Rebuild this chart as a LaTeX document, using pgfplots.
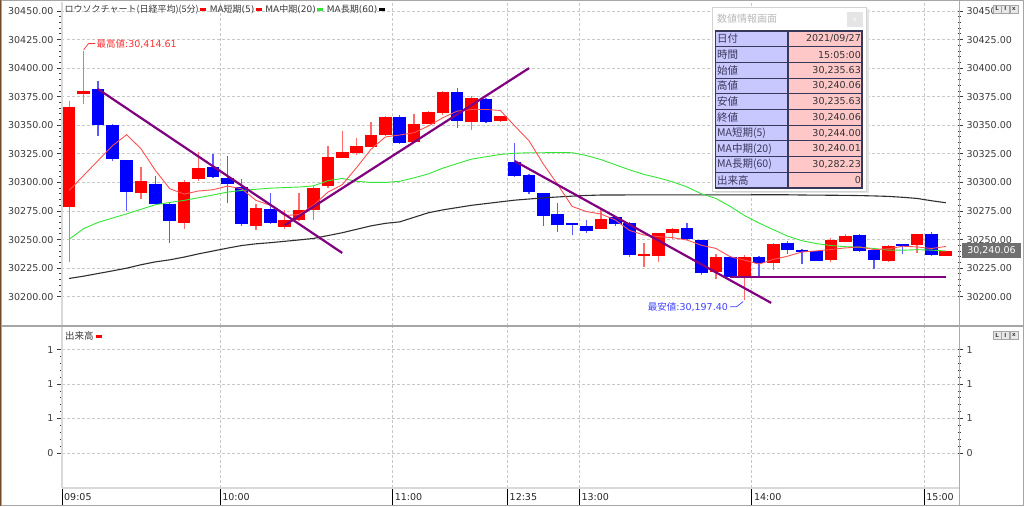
\documentclass[border=0pt]{standalone}
\usepackage{pgfplots}
\pgfplotsset{compat=1.18}
\usepackage{fontspec}
\setmainfont{Noto Sans CJK JP}
\newfontfamily\num{DejaVu Sans}

\definecolor{candR}{HTML}{FF0000}
\definecolor{candB}{HTML}{0000FF}
\definecolor{wickR}{HTML}{FF6A6A}
\definecolor{wickB}{HTML}{5A5AFF}
\definecolor{ma5}{HTML}{FF5050}
\definecolor{ma20}{HTML}{33E633}
\definecolor{ma60}{HTML}{303030}
\definecolor{trend}{HTML}{800080}
\definecolor{gridc}{HTML}{C8C8C8}
\definecolor{txt}{HTML}{3C3C3C}
\definecolor{boxL}{HTML}{C8C8FF}
\definecolor{boxR}{HTML}{FFC8C8}
\definecolor{tblc}{HTML}{38385A}

\newcommand{\mk}[1]{\textcolor{#1}{\raisebox{0.22em}{\rule{6pt}{2.6pt}}}}
\newcommand{\row}[3]{%
  \node[anchor=west, inner sep=0, text=tblc, font=\fontsize{10.5}{11}\selectfont] at (717,{467.15-15.7*#1}) {#2};
  \node[anchor=east, inner sep=0, text=black!80, font=\num\fontsize{9.5}{11}\selectfont] at (861,{467.15-15.7*#1}) {#3};}
\newcommand{\btns}[1]{%
  \foreach \bx/\bl in {993/L,1001.5/I,1010/x}{
    \draw[gray!70, fill=gray!18] (\bx,#1) rectangle ++(8,8);
    \node[inner sep=0, font=\num\bfseries\fontsize{5.5}{6}\selectfont, text=black!75] at (\bx+4,#1+4) {\bl};}}

\pgfplotsset{
  chart/.style={
    scale only axis, width=896pt,
    xmin=-0.5, xmax=61.85,
    axis line style={draw=none},
    tick align=outside,
    major tick length=5pt, minor tick length=2.5pt,
    tick style={txt, line width=0.8pt},
    xtick={10.5,22.5,30.5,35.5,47.5,59.5}, xticklabels={},
    xtick style={draw=none},
    scaled y ticks=false,
    ticklabel style={font=\num\fontsize{9.5}{11}\selectfont, text=txt},
    /pgf/number format/assume math mode=true,
    major grid style={gridc, dash pattern=on 2.5pt off 2.5pt, line width=0.8pt},
  },
  price/.style={
    ymin=30174.4, ymax=30457,
    ytick={30200,30225,...,30450}, minor y tick num=4,
    yticklabel style={/pgf/number format/fixed, /pgf/number format/fixed zerofill,
      /pgf/number format/precision=2, /pgf/number format/1000 sep={}},
  },
}

\begin{document}
\begin{tikzpicture}[x=1pt,y=1pt]
\useasboundingbox (0,0) rectangle (1024,506);
\fill[white] (0,0) rectangle (1024,506);

% ---------- price panel ----------
\begin{axis}[chart, price, at={(62pt,180pt)}, anchor=south west, height=323pt,
  ytick pos=left,
  xmajorgrids, ymajorgrids,
  unbounded coords=jump,
]
% wicks
\addplot[wickR, line width=1.3pt] coordinates {
(0,30230.5) (0,30371) (0,nan) (1,30369) (1,30414.61) (1,nan)
(5,30285.5) (5,30313.4) (5,nan) (8,30259.6) (8,30301.7) (8,nan)
(9,30301.2) (9,30326.2) (9,nan) (13,30258) (13,30280.8) (13,nan)
(15,30259.6) (15,30276) (15,nan) (16,30266) (16,30291) (16,nan)
(17,30267.4) (17,30297) (17,nan) (18,30295) (18,30332.3) (18,nan)
(19,30321) (19,30344.8) (19,nan) (20,30323.9) (20,30338.6) (20,nan)
(21,30331) (21,30352.8) (21,nan) (22,30341) (22,30358) (22,nan)
(24,30334.6) (24,30360) (24,nan) (25,30350.8) (25,30362.5) (25,nan)
(26,30358.6) (26,30380) (26,nan) (28,30345.9) (28,30375.7) (28,nan)
(30,30353) (30,30358.5) (30,nan) (37,30259) (37,30276.8) (37,nan)
(40,30226.3) (40,30246.7) (40,nan) (41,30230.7) (41,30256) (41,nan)
(42,30250.2) (42,30260) (42,nan) (45,30215.2) (45,30237) (45,nan)
(47,30197.4) (47,30236.5) (47,nan) (49,30223.8) (49,30247) (49,nan)
(53,30230.2) (53,30251.7) (53,nan) (54,30248) (54,30254.7) (54,nan)
(57,30230) (57,30245) (57,nan) (59,30238.4) (59,30255) (59,nan)
(61,30235.63) (61,30240.06)
};
\addplot[wickB, line width=1.3pt] coordinates {
(2,30341) (2,30388.4) (2,nan) (3,30318.6) (3,30351) (3,nan)
(4,30275) (4,30320) (4,nan) (6,30280.8) (6,30305.2) (6,nan)
(7,30247.4) (7,30282) (7,nan) (10,30304) (10,30325) (10,nan)
(11,30282) (11,30323) (11,nan) (12,30262) (12,30303.2) (12,nan)
(14,30264) (14,30291) (14,nan) (23,30334) (23,30358.6) (23,nan)
(27,30348) (27,30382.6) (27,nan) (29,30352) (29,30374) (29,nan)
(31,30305) (31,30334.9) (31,nan) (32,30290) (32,30307) (32,nan)
(33,30262) (33,30291) (33,nan) (34,30257) (34,30281.8) (34,nan)
(35,30254) (35,30264.5) (35,nan) (36,30256) (36,30267) (36,nan)
(38,30262) (38,30270) (38,nan) (39,30234.5) (39,30265) (39,nan)
(43,30250) (43,30264.3) (43,nan) (44,30218.7) (44,30250) (44,nan)
(46,30216) (46,30236) (46,nan) (48,30216.6) (48,30235.5) (48,nan)
(50,30237.2) (50,30248.5) (50,nan) (51,30228.5) (51,30241.5) (51,nan)
(52,30231) (52,30240) (52,nan) (55,30239.2) (55,30255) (55,nan)
(56,30224.7) (56,30242) (56,nan) (58,30237.2) (58,30246.5) (58,nan)
(60,30236) (60,30256.4)
};
% bodies (open, close)
\addplot[candR, line width=12.6pt] coordinates {
(0,30278.2) (0,30366.3) (0,nan) (1,30377) (1,30380) (1,nan)
(5,30290.7) (5,30301.2) (5,nan) (8,30264.8) (8,30300) (8,nan)
(9,30302.9) (9,30312.5) (9,nan) (13,30261.9) (13,30277.6) (13,nan)
(15,30261) (15,30267.4) (15,nan) (16,30266.9) (16,30275.6) (16,nan)
(17,30275.6) (17,30295.1) (17,nan) (18,30296.5) (18,30322.1) (18,nan)
(19,30321.8) (19,30326.2) (19,nan) (20,30325.9) (20,30331.7) (20,nan)
(21,30331.4) (21,30341.6) (21,nan) (22,30341.8) (22,30357.5) (22,nan)
(24,30335.5) (24,30351.4) (24,nan) (25,30351.4) (25,30361.5) (25,nan)
(26,30361) (26,30378.9) (26,nan) (28,30352.8) (28,30374) (28,nan)
(30,30353.7) (30,30358) (30,nan) (37,30259.3) (37,30267.8) (37,nan)
(40,30236) (40,30237.4) (40,nan) (41,30235.6) (41,30255.8) (41,nan)
(42,30255.5) (42,30259.6) (42,nan) (45,30221.3) (45,30235) (45,nan)
(47,30217.5) (47,30234.5) (47,nan) (49,30229.7) (49,30246.5) (49,nan)
(53,30232) (53,30249.4) (53,nan) (54,30248.3) (54,30252.9) (54,nan)
(57,30231.4) (57,30244.2) (57,nan) (59,30245.1) (59,30254.7) (59,nan)
(61,30235.63) (61,30240.06)
};
\addplot[candB, line width=12.6pt] coordinates {
(2,30381.4) (2,30350.6) (2,nan) (3,30350.3) (3,30320.1) (3,nan)
(4,30319.5) (4,30291.3) (4,nan) (6,30298.8) (6,30281.4) (6,nan)
(7,30281.4) (7,30266.6) (7,nan) (10,30313.1) (10,30304.9) (10,nan)
(11,30304) (11,30298.8) (11,nan) (12,30296) (12,30263.4) (12,nan)
(14,30276.5) (14,30264.8) (14,nan) (23,30357.5) (23,30334.6) (23,nan)
(27,30379.2) (27,30353.4) (27,nan) (29,30373.4) (29,30352.8) (29,nan)
(31,30317.5) (31,30305.7) (31,nan) (32,30306.5) (32,30291.2) (32,nan)
(33,30290.9) (33,30270.4) (33,nan) (34,30272.4) (34,30262.8) (34,nan)
(35,30264.3) (35,30263) (35,nan) (36,30262.2) (36,30257.5) (36,nan)
(38,30269.5) (38,30263.4) (38,nan) (39,30264.3) (39,30236.2) (39,nan)
(43,30259.9) (43,30250.5) (43,nan) (44,30249.6) (44,30221) (44,nan)
(46,30235) (46,30217.5) (46,nan) (48,30234.6) (48,30229.9) (48,nan)
(50,30247.4) (50,30241.3) (50,nan) (51,30241.3) (51,30239) (51,nan)
(52,30239.8) (52,30231.1) (52,nan) (55,30254.4) (55,30239.8) (55,nan)
(56,30241.3) (56,30232) (56,nan) (58,30245.9) (58,30244.6) (58,nan)
(60,30255.2) (60,30236.3)
};
% MA60
\addplot[ma60, line width=1.1pt] coordinates {
(0,30216) (1,30218) (2,30220.3) (3,30222.6) (4,30225) (5,30228) (6,30230.5)
(7,30232.3) (8,30234.7) (9,30237.5) (10,30240) (11,30242.5) (12,30244.8)
(13,30246.3) (14,30247.3) (15,30248.5) (16,30249.7) (17,30251) (18,30253.5)
(19,30256) (20,30259) (21,30262) (22,30264.2) (23,30265.5) (24,30269.5)
(25,30273.5) (26,30276) (27,30278) (28,30280) (29,30281.5) (30,30283)
(31,30284.5) (32,30285.5) (33,30286.5) (34,30287.3) (35,30288) (36,30288.6)
(37,30289) (40,30289.1) (44,30289.1) (48,30289.2) (50,30289.2) (51,30289)
(52,30288.9) (53,30288.8) (54,30288.7) (55,30288.5) (56,30288.2) (57,30287.8)
(58,30287) (59,30286) (60,30284) (61,30282.23)
};
% MA20
\addplot[ma20, line width=0.9pt] coordinates {
(0,30250.3) (1,30259.6) (2,30265) (3,30268.8) (4,30272.5) (5,30276.5)
(6,30280.5) (7,30282.5) (8,30284.3) (9,30286.6) (10,30289) (11,30291.5)
(12,30293) (13,30294) (14,30295) (15,30295.5) (16,30296) (17,30297)
(18,30301.5) (19,30303.5) (20,30301) (21,30300) (22,30300) (23,30301)
(24,30304) (25,30307.5) (26,30312.5) (27,30316.5) (28,30320.4) (29,30322.5)
(30,30324.5) (31,30325.5) (32,30326) (33,30326) (34,30326.2) (35,30326)
(36,30323.5) (37,30320) (38,30315.5) (39,30311) (40,30307) (41,30304)
(42,30300.5) (43,30296) (44,30290) (45,30286) (46,30279) (47,30271)
(48,30264.5) (49,30258.7) (50,30253) (51,30249) (52,30246.5) (53,30244.8)
(54,30243.8) (55,30243.3) (56,30242.2) (57,30240.8) (58,30240.7) (59,30241.2)
(60,30240.8) (61,30240.01)
};
% MA5
\addplot[ma5, line width=0.9pt] coordinates {
(0,30293) (1,30306) (2,30319) (3,30332) (4,30341.8) (5,30329.4) (6,30310.5)
(7,30294.5) (8,30289.8) (9,30292.5) (10,30293.6) (11,30296.8) (12,30294.5)
(13,30284.3) (14,30280) (15,30271) (16,30272) (17,30280) (18,30291.5)
(19,30298) (20,30313) (21,30329) (22,30339.8) (23,30341.5) (24,30343.5)
(25,30349.4) (26,30356.6) (27,30362.4) (28,30363.8) (29,30363.8) (30,30363)
(31,30349.5) (32,30336.4) (33,30316) (34,30298) (35,30279) (36,30274.5)
(37,30272.4) (38,30267.2) (39,30258) (40,30254) (41,30252.6) (42,30251.7)
(43,30249.6) (44,30245) (45,30242.3) (46,30235) (47,30232) (48,30228.5)
(49,30232.7) (50,30235.5) (51,30239.2) (52,30240.1) (53,30241.3) (54,30242.7)
(55,30243.6) (56,30241.3) (57,30241.9) (58,30244.2) (59,30243.6) (60,30242.2)
(61,30244)
};
% trend lines
\addplot[trend, line width=2.2pt] coordinates {(2,30381.7) (19,30238.3)};
\addplot[trend, line width=2.2pt] coordinates {(15,30262.6) (32,30400)};
\addplot[trend, line width=2.2pt] coordinates {(31,30318.7) (48.85,30194.6)};
\addplot[trend, line width=2.2pt] coordinates {(45.95,30217.5) (61,30217.5)};
% high / low notes
\draw[red!80, line width=0.7pt] (axis cs:1,30416) -- (axis cs:1.35,30421.5) -- (axis cs:1.82,30421.5);
\node[anchor=west, inner sep=0, text=red!80, font=\fontsize{9.5}{10}\selectfont] at (axis cs:1.9,30421.5) {最高値{\num :30,414.61}};
\draw[blue!75, line width=0.7pt] (axis cs:46,30191.3) -- (axis cs:46.45,30191.3) -- (axis cs:46.9,30195.8);
\node[anchor=east, inner sep=0, text=blue!75, font=\fontsize{9.5}{10}\selectfont] at (axis cs:45.85,30191.3) {最安値{\num :30,197.40}};
\end{axis}

% right labels of price panel
\begin{axis}[chart, price, at={(62pt,180pt)}, anchor=south west, height=323pt,
  ytick pos=right, yticklabel pos=right,
  xtick=\empty,
]
\addplot[draw=none] coordinates {(0,30300)};
\end{axis}

% ---------- volume panel ----------
\begin{axis}[chart, at={(62pt,18.3pt)}, anchor=south west, height=160.7pt,
  ymin=-1.01, ymax=3.66,
  ytick={0,1,2,3}, yticklabels={0,1,1,1}, minor y tick num=4,
  ytick pos=left,
  xmajorgrids, ymajorgrids,
]
\addplot[draw=none] coordinates {(0,0)};
\end{axis}
\begin{axis}[chart, at={(62pt,18.3pt)}, anchor=south west, height=160.7pt,
  ymin=-1.01, ymax=3.66,
  ytick={0,1,2,3}, yticklabels={0,1,1,1}, minor y tick num=4,
  ytick pos=right, yticklabel pos=right, xtick=\empty,
]
\addplot[draw=none] coordinates {(0,0)};
\end{axis}

% frame lines
\draw[gray!30, line width=1.6pt] (62,18) -- (62,504);
\draw[gray!30, line width=1.6pt] (62,18) -- (960,18);
\draw[gray!65, line width=1.6pt] (959.5,1) -- (959.5,505);
\draw[gray!70, line width=2.6pt] (0,180) -- (1024,180);
\draw[gray!70, line width=1.5pt] (0.75,0.75) rectangle (1023.25,505.25);
\draw[brown!60!black, line width=1.2pt] (0.6,0) -- (0.6,506);

% time axis
\foreach \tx/\tl in {62/09:05,220.1/10:00,392.6/11:00,507.5/12:35,579.4/13:00,751.8/14:00,924.2/15:00}{
  \draw[black, line width=0.9pt] (\tx,1.5) -- (\tx,17);
  \node[anchor=west, inner sep=0, text=black!85, font=\num\fontsize{9.5}{11}\selectfont] at (\tx+2,9) {\tl};}

% legends
\node[anchor=west, inner sep=0, text=txt, font=\fontsize{9}{10}\selectfont] at (64.5,496)
  {ロウソクチャート(日経平均)(5分)\,\mk{candR}\, {\num MA}短期{\num (5)}\,\mk{candR}\, {\num MA}中期{\num (20)}\,\mk{ma20}\, {\num MA}長期{\num (60)}\,\mk{black}};
\node[anchor=west, inner sep=0, text=txt, font=\fontsize{9.5}{10}\selectfont] at (65,170)
  {出来高 \mk{candR}};

% price tag
\fill[gray!75!black!90] (962,248) rectangle (1021,263);
\node[text=white, inner sep=0, font=\num\fontsize{9.5}{11}\selectfont] at (991.5,255.5) {30,240.06};

\btns{493}
\btns{167}

% info window
\fill[black!10] (714.5,312.5) rectangle (868.5,496.5);
\fill[white] (712,315) rectangle (866,499);
\draw[gray!35] (712,315) rectangle (866,499);
\node[anchor=west, inner sep=0, text=gray!55, font=\fontsize{10}{11}\selectfont] at (717,487) {数値情報画面};
\fill[gray!20] (847,479) rectangle (863,494);
\node[inner sep=0, text=white, font=\num\fontsize{6}{6}\selectfont] at (855,486.5) {x};
\fill[boxL] (715.5,318) rectangle (788,475);
\fill[boxR] (788,318) rectangle (862,475);
\foreach \k in {1,...,9}{\draw[tblc, line width=0.9pt] (715.5,475-15.7*\k) -- (862,475-15.7*\k);}
\draw[tblc, line width=1.2pt] (715.5,318) rectangle (862,475);
\draw[tblc, line width=1.2pt] (788,318) -- (788,475);
\row{0}{日付}{2021/09/27}
\row{1}{時間}{15:05:00}
\row{2}{始値}{30,235.63}
\row{3}{高値}{30,240.06}
\row{4}{安値}{30,235.63}
\row{5}{終値}{30,240.06}
\row{6}{MA短期(5)}{30,244.00}
\row{7}{MA中期(20)}{30,240.01}
\row{8}{MA長期(60)}{30,282.23}
\row{9}{出来高}{0}
\end{tikzpicture}
\end{document}
